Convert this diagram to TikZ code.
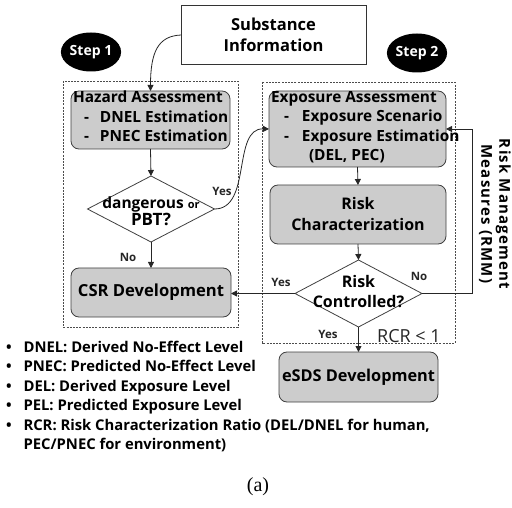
\documentclass[tikz,border=0pt]{standalone}
\usepackage{fontspec}
\setmainfont{Open Sans}
\newfontfamily\captionfont{Liberation Serif}
\usetikzlibrary{shapes.geometric,arrows.meta}

\begin{document}
\begin{tikzpicture}[x=1pt,y=-1pt,
  every node/.style={inner sep=0pt, outer sep=0pt},
  boxfont/.style={font=\fontsize{15.4}{19.5}\selectfont\bfseries},
  procbox/.style={draw=black!75, fill=black!20, rounded corners=8pt, line width=0.8pt},
  plainbox/.style={draw=black!80, fill=white, line width=0.8pt},
  stepbubble/.style={ellipse, fill=black, text=white, minimum width=55pt, minimum height=39pt,
    font=\fontsize{14}{16}\selectfont\bfseries},
  decision/.style={diamond, draw=black!75, line width=0.8pt, fill=white},
  stagebox/.style={draw=black!70, line width=0.6pt, dash pattern=on 2pt off 1.2pt},
  arr/.style={-{Triangle[length=6pt,width=6pt]}, line width=0.8pt, draw=black!85},
  edgelabel/.style={font=\fontsize{11.5}{13}\selectfont\bfseries, text=black!85},
]
\useasboundingbox (0,0) rectangle (512,508);

% dashed frames of the two steps
\draw[stagebox] (63,81) rectangle (238,327);
\draw[stagebox] (262,82) rectangle (455,343);

% input box and step markers
\node[plainbox, minimum width=185pt, minimum height=59pt, align=center,
      font=\fontsize{16.5}{21}\selectfont\bfseries] (subst) at (273.5,35) {Substance\\Information};
\node[stepbubble] (step1) at (91,52) {Step 1};
\node[stepbubble] (step2) at (417,53) {Step 2};

% Step 1 column
\node[procbox, minimum width=159pt, minimum height=58pt] (haz) at (150.5,120) {};
\node[boxfont, align=left, anchor=north west] (haztext) at (73,91)
  {Hazard Assessment\\
   \hspace*{11pt}-\hspace*{11pt}DNEL Estimation\\
   \hspace*{11pt}-\hspace*{11pt}PNEC Estimation};
\node[decision, minimum width=127pt, minimum height=66pt] (dang) at (151,209) {};
\node[align=center, font=\fontsize{15.5}{17}\selectfont\bfseries] (dangtext) at (151,211)
  {dangerous {\fontsize{11}{12}\selectfont or}\\{\fontsize{17}{17}\selectfont PBT?}};
\node[procbox, minimum width=160pt, minimum height=49pt,
      font=\fontsize{16.6}{20}\selectfont\bfseries] (csr) at (151,292.5) {CSR Development};

% Step 2 column
\node[procbox, minimum width=177pt, minimum height=76pt] (expo) at (357.5,129) {};
\node[boxfont, align=left, anchor=north west] (expotext) at (271,91)
  {Exposure Assessment\\
   \hspace*{13pt}-\hspace*{13pt}Exposure Scenario\\
   \hspace*{13pt}-\hspace*{13pt}Exposure Estimation\\
   \hspace*{38pt}(DEL, PEC)};
\node[procbox, minimum width=176pt, minimum height=59pt, align=center,
      font=\fontsize{16}{21}\selectfont\bfseries] (rchar) at (358,214.5) {Risk\\Characterization};
\node[decision, minimum width=127pt, minimum height=67pt] (ctrl) at (358.5,293.5) {};
\node[align=center, font=\fontsize{16}{20}\selectfont\bfseries] (ctrltext) at (358.5,292)
  {Risk\\Controlled?};
\node[procbox, minimum width=159pt, minimum height=50pt,
      font=\fontsize{16.3}{20}\selectfont\bfseries] (esds) at (358.5,377) {eSDS Development};

% connectors
\draw[arr] (subst.west) .. controls (158,36) and (150.5,52) .. (haz.north);
\draw[arr] (haz.south) -- (dang.north);
\draw[arr] (dang.south) -- (csr.north);
\draw[arr] (dang.east) .. controls (252,209) and (232,128) .. (expo.west);
\draw[arr] (expo.south) -- (rchar.north);
\draw[arr] (rchar.south) -- (ctrl.north);
\draw[arr] (ctrl.west) -- (ctrl.west -| csr.east);
\draw[arr] (ctrl.south) -- (esds.north);
\coordinate (rmmlow) at (472,293.5);
\coordinate (rmmhigh) at (472,129);
\draw[arr] (ctrl.east) -- (rmmlow) -- (rmmhigh) -- (expo.east);

% connector labels
\node[edgelabel] (yes1) at (222,191) {Yes};
\node[edgelabel] (no1) at (128,257) {No};
\node[edgelabel] (yes2) at (281,282) {Yes};
\node[edgelabel] (no2) at (419,276) {No};
\node[edgelabel] (yes3) at (328,334) {Yes};
\node[font=\fontsize{18}{20}\selectfont, text=black!85] (rcr) at (409,336) {RCR < 1};
\node[rotate=-90, align=center, font=\fontsize{15}{18}\selectfont\bfseries\addfontfeatures{LetterSpace=8}]
  (rmm) at (495,214) {Risk Management\\Measures (RMM)};

% abbreviations
\node[anchor=north west, align=left, font=\fontsize{14.8}{19.5}\selectfont\bfseries] (abbr) at (6,341)
  {\textbullet\hspace*{12pt}DNEL: Derived No-Effect Level\\
   \textbullet\hspace*{12pt}PNEC: Predicted No-Effect Level\\
   \textbullet\hspace*{12pt}DEL: Derived Exposure Level\\
   \textbullet\hspace*{12pt}PEL: Predicted Exposure Level\\
   \textbullet\hspace*{12pt}RCR: Risk Characterization Ratio (DEL/DNEL for human,\\
   \phantom{\textbullet}\hspace*{12pt}PEC/PNEC for environment)};

\node[font=\captionfont\fontsize{20}{22}\selectfont] (caption) at (258,487) {(a)};
\end{tikzpicture}
\end{document}
